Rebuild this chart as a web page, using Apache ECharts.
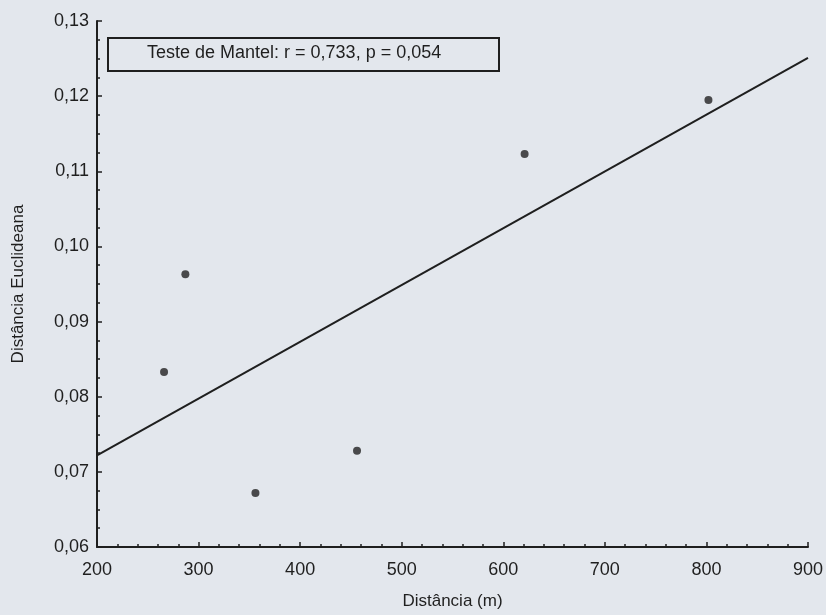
<!DOCTYPE html>
<html>
<head>
<meta charset="utf-8">
<script src="https://cdn.jsdelivr.net/npm/echarts@6/dist/echarts.min.js"></script>
<style>
html,body{margin:0;padding:0;background:#e3e7ed;}
#chart{width:826px;height:615px;}
</style>
</head>
<body>
<div id="chart"></div>
<script>
// Data
const distX = [266, 287, 356, 456, 621, 802];
const distY = [0.0833, 0.0963, 0.0672, 0.0728, 0.1123, 0.1195];
const fitX = [200, 900];
const fitY = [0.0722, 0.1251];
const xTicks = [200, 300, 400, 500, 600, 700, 800, 900];
const yTicks = ['0,06', '0,07', '0,08', '0,09', '0,10', '0,11', '0,12', '0,13'];
const legendText = 'Teste de Mantel: r = 0,733, p = 0,054';
const xTitle = 'Distância (m)';
const yTitle = 'Distância Euclideana';

const FONT = '"Liberation Sans", Arial, sans-serif';
const INK = '#1f1f1f';

const chart = echarts.init(document.getElementById('chart'), null, {renderer: 'canvas'});
chart.setOption({
  backgroundColor: '#e3e7ed',
  animation: false,
  grid: {left: 97, right: 15, top: 21, bottom: 65, containLabel: false},
  xAxis: {
    type: 'value', min: 200, max: 900, interval: 100,
    name: xTitle, nameLocation: 'middle', nameGap: 46,
    nameTextStyle: {fontFamily: FONT, fontSize: 17, color: INK},
    axisLine: {show: true, lineStyle: {color: INK, width: 2}},
    axisTick: {show: true, inside: true, length: 5, lineStyle: {color: INK, width: 1.5}},
    minorTick: {show: true, splitNumber: 5, length: 3, lineStyle: {color: INK, width: 1.5}},
    splitLine: {show: false},
    axisLabel: {
      margin: 14, fontFamily: FONT, fontSize: 18, color: INK,
      formatter: v => { const i = xTicks.indexOf(v); return i >= 0 ? String(xTicks[i]) : ''; }
    }
  },
  yAxis: {
    type: 'value', min: 0.06, max: 0.13, interval: 0.01,
    name: yTitle, nameLocation: 'middle', nameGap: 70, nameRotate: 90,
    nameTextStyle: {fontFamily: FONT, fontSize: 17, color: INK},
    axisLine: {show: true, lineStyle: {color: INK, width: 2}},
    axisTick: {show: true, inside: true, length: 5, lineStyle: {color: INK, width: 1.5}},
    minorTick: {show: true, splitNumber: 4, length: 3, lineStyle: {color: INK, width: 1.5}},
    splitLine: {show: false},
    axisLabel: {
      margin: 8, fontFamily: FONT, fontSize: 18, color: INK,
      formatter: v => { const i = Math.round((v - 0.06) / 0.01); return yTicks[i] || ''; }
    }
  },
  series: [
    {
      type: 'line',
      data: fitX.map((x, i) => [x, fitY[i]]),
      showSymbol: false, symbol: 'none',
      lineStyle: {color: INK, width: 2},
      z: 2
    },
    {
      type: 'scatter',
      data: distX.map((x, i) => [x, distY[i]]),
      symbol: 'circle', symbolSize: 8,
      itemStyle: {color: '#222222'},
      z: 3
    }
  ],
  graphic: [
    {
      type: 'rect', left: 107, top: 37, z: 10,
      shape: {width: 391, height: 33},
      style: {fill: 'rgba(0,0,0,0)', stroke: INK, lineWidth: 2}
    },
    {
      type: 'text', left: 147, top: 44, z: 11,
      style: {text: legendText, fontFamily: FONT, fontSize: 18, fill: INK}
    }
  ]
});
</script>
</body>
</html>
